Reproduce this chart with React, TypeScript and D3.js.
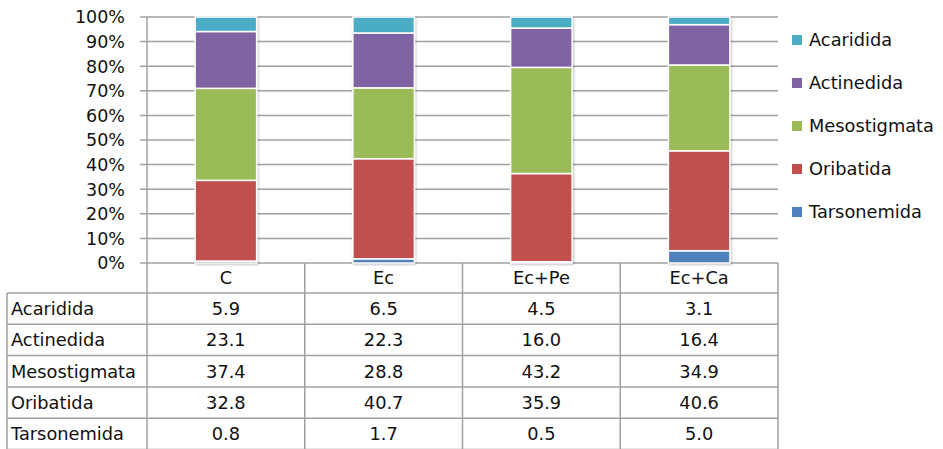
import React from "react";
import * as d3 from "d3";

const categories = ["C", "Ec", "Ec+Pe", "Ec+Ca"];
const tableOrder = ["Acaridida", "Actinedida", "Mesostigmata", "Oribatida", "Tarsonemida"];
const stackOrder = ["Tarsonemida", "Oribatida", "Mesostigmata", "Actinedida", "Acaridida"];
const acaridida = [5.9, 6.5, 4.5, 3.1];
const actinedida = [23.1, 22.3, 16.0, 16.4];
const mesostigmata = [37.4, 28.8, 43.2, 34.9];
const oribatida = [32.8, 40.7, 35.9, 40.6];
const tarsonemida = [0.8, 1.7, 0.5, 5.0];
const yTicks = [0, 10, 20, 30, 40, 50, 60, 70, 80, 90, 100];

const seriesValues: Record<string, number[]> = {
  Acaridida: acaridida,
  Actinedida: actinedida,
  Mesostigmata: mesostigmata,
  Oribatida: oribatida,
  Tarsonemida: tarsonemida,
};
const colors: Record<string, string> = {
  Acaridida: "#4BACC6",
  Actinedida: "#8064A2",
  Mesostigmata: "#9BBB59",
  Oribatida: "#C0504D",
  Tarsonemida: "#4F81BD",
};

const W = 943;
const H = 449;
const plotLeft = 147;
const plotRight = 778;
const plotTop = 17;
const plotBottom = 263;
const tableLeft = 7;
const rowH = 31.3;
const FONT = "'DejaVu Sans', sans-serif";
const FS = 17.8;
const TFS = 17.5;
const GRID = "#a0a0a0";

export default function App() {
  const x = d3.scaleBand<string>().domain(categories).range([plotLeft, plotRight]).paddingInner(0).paddingOuter(0);
  const y = d3.scaleLinear().domain([0, 100]).range([plotBottom, plotTop]);
  const barW = x.bandwidth() * 0.39;

  const rows = categories.map((c, i) => {
    const o: Record<string, number | string> = { cat: c };
    stackOrder.forEach((k) => (o[k] = seriesValues[k][i]));
    return o;
  });
  const total = categories.map((_, i) => stackOrder.reduce((s, k) => s + seriesValues[k][i], 0));
  const stack = d3
    .stack<Record<string, number | string>>()
    .keys(stackOrder)
    .value((d, k) => ((d[k] as number) / total[categories.indexOf(d.cat as string)]) * 100);
  const layers = stack(rows);

  const headerBottom = plotBottom + 30;
  const rowY = (i: number) => headerBottom + i * rowH;
  const tableBottom = rowY(tableOrder.length);

  return (
    <svg width={W} height={H} style={{ position: "absolute", left: 0, top: 0, background: "#fff" }} fontFamily={FONT}>
      <defs>
        <filter id="sh" x="-20%" y="-5%" width="140%" height="110%">
          <feDropShadow dx="1" dy="1" stdDeviation="1.2" floodColor="#000" floodOpacity="0.25" />
        </filter>
      </defs>
      {/* gridlines and ticks */}
      {yTicks.map((t) => (
        <g key={t}>
          <line x1={plotLeft - 7} x2={plotRight} y1={y(t)} y2={y(t)} stroke={GRID} strokeWidth={1.5} />
          <text x={125} y={y(t)} dy="0.36em" textAnchor="end" fontSize={TFS} fill="#111">
            {t}%
          </text>
        </g>
      ))}
      <line x1={plotLeft} x2={plotLeft} y1={plotTop} y2={tableBottom} stroke={GRID} strokeWidth={1.5} />

      {/* bars */}
      {categories.map((c, i) => (
        <g key={c} filter="url(#sh)">
          {layers.map((layer) => {
            const d = layer[i];
            const h = y(d[0]) - y(d[1]);
            return (
              <rect
                key={layer.key}
                x={(x(c) as number) + (x.bandwidth() - barW) / 2}
                y={y(d[1])}
                width={barW}
                height={Math.max(0, h)}
                fill={colors[layer.key]}
                stroke="#fff"
                strokeWidth={1.5}
              />
            );
          })}
        </g>
      ))}

      {/* legend */}
      {tableOrder.map((k, i) => {
        const cy = 40 + i * 43;
        return (
          <g key={k}>
            <rect x={792} y={cy - 5} width={10} height={10} fill={colors[k]} />
            <text x={809} y={cy} dy="0.36em" fontSize={FS} fill="#111">
              {k}
            </text>
          </g>
        );
      })}

      {/* table */}
      {categories.map((c, i) => (
        <text
          key={c}
          x={(x(c) as number) + x.bandwidth() / 2}
          y={(plotBottom + headerBottom) / 2}
          dy="0.36em"
          textAnchor="middle"
          fontSize={FS}
          fill="#111"
        >
          {c}
        </text>
      ))}
      {tableOrder.map((k, r) => (
        <g key={k}>
          <text x={tableLeft + 4} y={rowY(r) + rowH / 2} dy="0.36em" fontSize={FS} fill="#111">
            {k}
          </text>
          {categories.map((c, i) => (
            <text
              key={c}
              x={(x(c) as number) + x.bandwidth() / 2}
              y={rowY(r) + rowH / 2}
              dy="0.36em"
              textAnchor="middle"
              fontSize={FS}
              fill="#111"
            >
              {seriesValues[k][i].toFixed(1)}
            </text>
          ))}
        </g>
      ))}
      {d3.range(tableOrder.length + 1).map((r) => (
        <line key={r} x1={tableLeft} x2={plotRight} y1={rowY(r)} y2={rowY(r)} stroke={GRID} strokeWidth={1.5} />
      ))}
      <line x1={tableLeft} x2={tableLeft} y1={headerBottom} y2={tableBottom} stroke={GRID} strokeWidth={1.5} />
      {categories.map((c) => (
        <line
          key={c}
          x1={(x(c) as number) + x.bandwidth()}
          x2={(x(c) as number) + x.bandwidth()}
          y1={plotBottom}
          y2={tableBottom}
          stroke={GRID}
          strokeWidth={1.5}
        />
      ))}
    </svg>
  );
}
